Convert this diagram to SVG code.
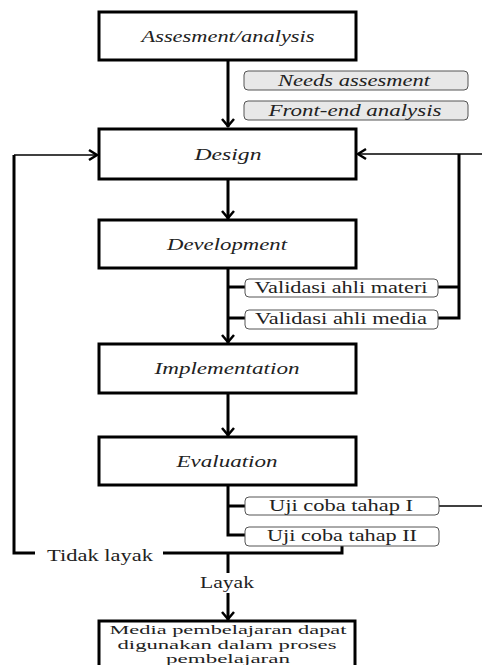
<svg xmlns="http://www.w3.org/2000/svg" width="482" height="665" viewBox="0 0 482 665">
<style>
.box{fill:#fff;stroke:#000;stroke-width:3}
.tag{fill:#e8e8e8;stroke:#555;stroke-width:1}
.tagw{fill:#fff;stroke:#555;stroke-width:1}
.t{font-family:"Liberation Serif","Times New Roman",serif;font-size:16px;fill:#222;text-anchor:middle}
.s{font-size:13px}
.i{font-style:italic}
.thick{fill:none;stroke:#000;stroke-width:3}
.thin{fill:none;stroke:#000;stroke-width:1.6}
.ah{fill:none;stroke:#000;stroke-width:2.5}
</style>
<rect width="482" height="665" fill="#fff"/>
<g id="connectors">
  <line class="thick" x1="228" y1="60" x2="228" y2="127"/>
  <polyline class="ah" points="222,119 228,126 234,119"/>
  <line class="thick" x1="228" y1="179" x2="228" y2="219"/>
  <polyline class="ah" points="222,211 228,218 234,211"/>
  <line class="thick" x1="228" y1="268" x2="228" y2="343"/>
  <polyline class="ah" points="222,335 228,342 234,335"/>
  <line class="thick" x1="228" y1="393" x2="228" y2="436"/>
  <polyline class="ah" points="222,428 228,435 234,428"/>
  <polyline class="thick" points="228,485 228,535 245,535"/>
  <line class="thick" x1="228" y1="506" x2="245" y2="506"/>
  <line class="thick" x1="228" y1="287" x2="245" y2="287"/>
  <line class="thick" x1="228" y1="318" x2="245" y2="318"/>
  <polyline class="thick" points="438,287 459,287"/>
  <polyline class="thick" points="438,318 459,318 459,154"/>
  <line class="thin" x1="482" y1="154" x2="358" y2="154"/>
  <polyline class="ah" points="366,149 358,154 366,159"/>
  <line class="thin" x1="439" y1="506" x2="482" y2="506"/>
  <polyline class="thick" points="342,546 342,553 163,553"/>
  <polyline class="thick" points="35,553 14,553 14,155"/>
  <line class="thin" x1="14" y1="155" x2="97" y2="155"/>
  <polyline class="ah" points="89,150 97,155 89,160"/>
  <line class="thick" x1="228" y1="553" x2="228" y2="573"/>
  <line class="thick" x1="228" y1="593" x2="228" y2="620"/>
  <polyline class="ah" points="222,612 228,619 234,612"/>
</g>
<g id="assessment">
  <rect class="box" x="99" y="12" width="257" height="48"/>
  <text class="t i" x="228" y="42" textLength="173" lengthAdjust="spacingAndGlyphs">Assesment/analysis</text>
</g>
<g id="needs">
  <rect class="tag" x="244" y="71" width="224" height="19" rx="4"/>
  <text class="t i" x="354" y="86" textLength="152" lengthAdjust="spacingAndGlyphs">Needs assesment</text>
</g>
<g id="frontend">
  <rect class="tag" x="244" y="101" width="224" height="19" rx="4"/>
  <text class="t i" x="355" y="116" textLength="173" lengthAdjust="spacingAndGlyphs">Front-end analysis</text>
</g>
<g id="design">
  <rect class="box" x="99" y="129" width="257" height="50"/>
  <text class="t i" x="228" y="160" textLength="67" lengthAdjust="spacingAndGlyphs">Design</text>
</g>
<g id="development">
  <rect class="box" x="99" y="220" width="257" height="48"/>
  <text class="t i" x="227" y="250" textLength="120" lengthAdjust="spacingAndGlyphs">Development</text>
</g>
<g id="val-materi">
  <rect class="tagw" x="245" y="279" width="193" height="18" rx="4"/>
  <text class="t" x="341" y="293" textLength="173" lengthAdjust="spacingAndGlyphs">Validasi ahli materi</text>
</g>
<g id="val-media">
  <rect class="tagw" x="245" y="310" width="193" height="19" rx="4"/>
  <text class="t" x="341" y="324" textLength="172" lengthAdjust="spacingAndGlyphs">Validasi ahli media</text>
</g>
<g id="implementation">
  <rect class="box" x="99" y="344" width="257" height="49"/>
  <text class="t i" x="227" y="374" textLength="145" lengthAdjust="spacingAndGlyphs">Implementation</text>
</g>
<g id="evaluation">
  <rect class="box" x="99" y="437" width="257" height="48"/>
  <text class="t i" x="227" y="467" textLength="101" lengthAdjust="spacingAndGlyphs">Evaluation</text>
</g>
<g id="uji1">
  <rect class="tagw" x="245" y="497" width="194" height="18" rx="4"/>
  <text class="t" x="341" y="511" textLength="144" lengthAdjust="spacingAndGlyphs">Uji coba tahap I</text>
</g>
<g id="uji2">
  <rect class="tagw" x="245" y="527" width="194" height="19" rx="4"/>
  <text class="t" x="342" y="541" textLength="150" lengthAdjust="spacingAndGlyphs">Uji coba tahap II</text>
</g>
<g id="tidak-layak">
  <text class="t" x="100" y="561" textLength="106" lengthAdjust="spacingAndGlyphs">Tidak layak</text>
</g>
<g id="layak">
  <text class="t" x="227" y="588" textLength="54" lengthAdjust="spacingAndGlyphs">Layak</text>
</g>
<g id="final">
  <rect class="box" x="99" y="621" width="256" height="60"/>
  <text class="t s" x="228" y="634" textLength="237" lengthAdjust="spacingAndGlyphs">Media pembelajaran dapat</text>
  <text class="t s" x="227" y="648.5" textLength="219" lengthAdjust="spacingAndGlyphs">digunakan dalam proses</text>
  <text class="t s" x="228" y="663" textLength="124" lengthAdjust="spacingAndGlyphs">pembelajaran</text>
</g>
</svg>
